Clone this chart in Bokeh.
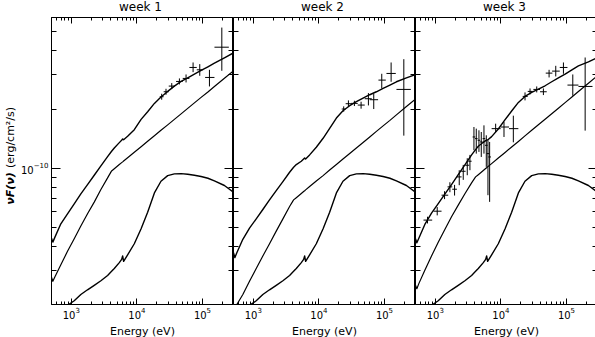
from math import pi
from bokeh.plotting import figure
from bokeh.models import Range1d, FixedTicker, LogAxis, Label, ColumnDataSource
from bokeh.layouts import row, column
from bokeh.embed import file_html
from bokeh.resources import INLINE

FONT = "DejaVu Sans"
FLUX_UNIT = 1e-10  # all flux values below are in units of 1e-10 erg/cm^2/s

panel_titles = ["week 1", "week 2", "week 3"]
x_axis_title = "Energy (eV)"
y_axis_title_symbol = "\u03bdF(\u03bd)"
y_axis_title_units = "(erg/cm\u00b2/s)"

# model energy grid (eV)
energy_grid = [500, 524, 562, 694, 877, 1110, 1400, 1770, 2240, 2830, 3580, 4120, 4530,
               5400, 5860, 6070, 6280, 7230, 9140, 11600, 14600, 18500, 23300, 29500,
               37300, 47200, 59600, 75300, 95300, 121000, 152000, 216000, 297000]

# thermal / Comptonised bump component (same in every week)
bump_component = [0.170, 0.172, 0.175, 0.186, 0.199, 0.210, 0.226, 0.239, 0.252, 0.266, 0.283,
                  0.297, 0.307, 0.329, 0.342, 0.356, 0.334, 0.361, 0.411, 0.490, 0.596, 0.748,
                  0.858, 0.917, 0.936, 0.939, 0.932, 0.921, 0.907, 0.889, 0.862, 0.816, 0.754]

# total model, per week
total_w1 = [0.439, 0.419, 0.443, 0.520, 0.585, 0.658, 0.740, 0.825, 0.921, 1.028, 1.147, 1.221,
            1.270, 1.352, 1.390, 1.411, 1.400, 1.456, 1.575, 1.778, 1.946, 2.146, 2.312, 2.471,
            2.631, 2.779, 2.901, 3.029, 3.162, 3.302, 3.447, 3.669, 3.892]
total_w2 = [0.370, 0.349, 0.370, 0.433, 0.494, 0.551, 0.615, 0.689, 0.769, 0.855, 0.954, 1.012,
            1.044, 1.086, 1.116, 1.129, 1.116, 1.170, 1.280, 1.423, 1.600, 1.806, 1.969, 2.088,
            2.189, 2.285, 2.376, 2.461, 2.559, 2.662, 2.768, 2.901, 3.017]
total_w3 = [0.436, 0.416, 0.439, 0.516, 0.589, 0.660, 0.737, 0.825, 0.928, 1.040, 1.170, 1.245,
            1.295, 1.357, 1.384, 1.395, 1.395, 1.451, 1.587, 1.771, 1.961, 2.171, 2.330, 2.442,
            2.540, 2.641, 2.768, 2.901, 3.029, 3.187, 3.340, 3.501, 3.684]

# power-law component, per week
power_w1 = [0.277, 0.264, 0.278, 0.321, 0.376, 0.436, 0.506, 0.585, 0.671, 0.778, 0.893, 0.969,
            0.995, 1.044, 1.068, 1.078, 1.089, 1.132, 1.207, 1.288, 1.374, 1.465, 1.563, 1.667,
            1.778, 1.897, 2.024, 2.159, 2.303, 2.456, 2.620, 2.887, 3.150]
power_w2 = [0.199, 0.190, 0.201, 0.226, 0.264, 0.307, 0.356, 0.411, 0.477, 0.551, 0.637, 0.689,
            0.707, 0.743, 0.760, 0.767, 0.775, 0.806, 0.860, 0.917, 0.979, 1.045, 1.115, 1.190,
            1.270, 1.355, 1.446, 1.543, 1.647, 1.757, 1.875, 2.068, 2.258]
power_w3 = [0.252, 0.242, 0.257, 0.301, 0.356, 0.418, 0.486, 0.565, 0.648, 0.740, 0.842, 0.903,
            0.927, 0.974, 0.996, 1.006, 1.016, 1.056, 1.127, 1.204, 1.285, 1.371, 1.464, 1.563,
            1.668, 1.780, 1.901, 2.028, 2.165, 2.312, 2.467, 2.721, 2.970]

# measured spectra: energy (eV) with bin edges, flux with error range
e_w1 = [23900, 27800, 34000, 44500, 56200, 71900, 90900, 127700, 197100]
e_lo_w1 = [22300, 25600, 30600, 39600, 50000, 63200, 81800, 109700, 152300]
e_hi_w1 = [25600, 30600, 37800, 50000, 63200, 81800, 102300, 152300, 252100]
f_w1 = [2.321, 2.461, 2.631, 2.779, 2.879, 3.276, 3.187, 2.913, 4.159]
f_lo_w1 = [2.241, 2.376, 2.540, 2.683, 2.746, 3.101, 2.970, 2.620, 3.150]
f_hi_w1 = [2.404, 2.549, 2.725, 2.879, 3.017, 3.474, 3.407, 3.187, 5.240]

e_w2 = [23900, 28200, 34800, 44000, 56900, 68600, 90900, 126200, 197100]
e_lo_w2 = [22300, 25600, 30900, 39100, 50000, 59600, 80900, 107200, 152300]
e_hi_w2 = [25600, 30900, 39100, 50000, 64000, 79900, 104700, 148700, 252100]
f_w2 = [2.008, 2.138, 2.146, 2.104, 2.267, 2.241, 2.823, 3.053, 2.530]
f_lo_w2 = [1.946, 2.056, 2.080, 2.016, 2.095, 2.008, 2.559, 2.768, 1.468]
f_hi_w2 = [2.072, 2.223, 2.214, 2.189, 2.423, 2.404, 3.041, 3.474, 3.612]

e_w3 = [762, 1071, 1386, 1672, 1970, 2321, 2671, 3075, 3377, 3887, 4219, 4633, 5029, 5525,
        5997, 6359, 6743, 8325, 11160, 15490, 23350, 27840, 35200, 44490, 54300, 68640,
        89860, 124800, 192500]
e_lo_w3 = [662, 942, 1247, 1540, 1815, 2138, 2490, 2865, 3185, 3709, 4026, 4421, 4799, 5272,
           5723, 6068, 6434, 7234, 9928, 13310, 21510, 25650, 31310, 39570, 48290, 60340,
           79000, 103500, 152300]
e_hi_w3 = [898, 1247, 1576, 1815, 2138, 2519, 2900, 3299, 3581, 4073, 4421, 4855, 5272, 5790,
           6285, 6664, 7066, 9928, 13310, 18480, 25650, 30580, 39570, 50010, 61050, 79000,
           103500, 152300, 249100]
f_w3 = [0.543, 0.603, 0.728, 0.803, 0.781, 0.903, 0.965, 1.036, 1.086, 1.445, 1.417, 1.390,
        1.363, 1.417, 1.310, 1.188, 1.142, 1.594, 1.625, 1.594, 2.330, 2.471, 2.530, 2.461,
        3.065, 3.138, 3.276, 2.662, 2.620]
f_lo_w3 = [0.522, 0.574, 0.695, 0.754, 0.725, 0.819, 0.872, 0.921, 0.977, 1.236, 1.188, 1.212,
           1.142, 1.188, 1.016, 0.728, 0.673, 1.532, 1.445, 1.357, 2.223, 2.385, 2.442, 2.367,
           2.913, 2.947, 3.041, 2.348, 1.557]
f_hi_w3 = [0.565, 0.633, 0.763, 0.848, 0.822, 0.977, 1.040, 1.125, 1.170, 1.625, 1.594, 1.563,
           1.532, 1.657, 1.474, 1.390, 1.363, 1.690, 1.723, 1.857, 2.442, 2.559, 2.620, 2.559,
           3.187, 3.340, 3.474, 3.017, 3.684]

# axis ticks
x_major_ticks = [1e3, 1e4, 1e5]
x_minor_ticks = [600, 700, 800, 900, 2000, 3000, 4000, 5000, 6000, 7000, 8000, 9000,
                 20000, 30000, 40000, 50000, 60000, 70000, 80000, 90000, 200000]
y_major_ticks = [1e-10]
y_minor_ticks = [3e-11, 4e-11, 5e-11, 6e-11, 7e-11, 8e-11, 9e-11, 2e-10, 3e-10, 4e-10, 5e-10]

X_RANGE = (500, 2.97e5)
Y_RANGE = (2.01e-11, 5.9e-10)
FRAME_W, FRAME_H = 182, 287
TITLE_H = 16
TOP, BOTTOM = 1, 33
LABEL_STRIP_W = 18
LEFT_EDGE = 49


def style_axis(ax, major_in, minor_in, show_labels):
    ax.axis_line_color = "black"
    ax.axis_line_width = 1
    ax.major_tick_line_color = "black"
    ax.minor_tick_line_color = "black"
    ax.major_tick_in = major_in
    ax.major_tick_out = 0
    ax.minor_tick_in = minor_in
    ax.minor_tick_out = 0
    if show_labels:
        ax.major_label_text_font = FONT
        ax.major_label_text_font_size = "10px"
        ax.major_label_text_color = "black"
        ax.major_label_standoff = 2
    else:
        ax.major_label_text_font_size = "0px"
        ax.major_label_text_alpha = 0
        ax.major_label_standoff = 0
        ax.axis_label = None


def scaled(vals):
    return [v * FLUX_UNIT for v in vals]


def blank_strip(width, height, top, bottom):
    s = figure(width=width, height=height, x_range=Range1d(0, 1), y_range=Range1d(0, 1),
               x_axis_location=None, y_axis_location=None,
               min_border_left=0, min_border_right=0, min_border_top=top,
               min_border_bottom=bottom, output_backend="svg", toolbar_location=None,
               background_fill_color="white", border_fill_color="white")
    s.grid.visible = False
    s.outline_line_color = None
    return s


def build_panel(i, total, power, e, e_lo, e_hi, f, f_lo, f_hi):
    first = i == 0
    p = figure(
        x_axis_type="log", y_axis_type="log",
        x_range=Range1d(*X_RANGE), y_range=Range1d(*Y_RANGE),
        frame_width=FRAME_W, frame_height=FRAME_H,
        min_border_left=LEFT_EDGE - LABEL_STRIP_W if first else 0, min_border_right=0,
        min_border_top=TOP, min_border_bottom=BOTTOM,
        output_backend="svg", toolbar_location=None,
        background_fill_color="white", border_fill_color="white",
    )
    p.outline_line_color = "black"
    p.outline_line_width = 1
    p.grid.visible = False

    model = ColumnDataSource(dict(e=energy_grid, total=scaled(total),
                                  power=scaled(power), bump=scaled(bump_component)))
    p.line("e", "total", source=model, line_color="black", line_width=1.4, line_join="round")
    p.line("e", "power", source=model, line_color="black", line_width=1.2, line_join="round")
    p.line("e", "bump", source=model, line_color="black", line_width=1.4, line_join="round")

    data = ColumnDataSource(dict(e=e, e_lo=e_lo, e_hi=e_hi, f=scaled(f),
                                 f_lo=scaled(f_lo), f_hi=scaled(f_hi)))
    p.segment(x0="e_lo", y0="f", x1="e_hi", y1="f", source=data,
              line_color="black", line_width=1)
    p.segment(x0="e", y0="f_lo", x1="e", y1="f_hi", source=data,
              line_color="black", line_width=1)

    bottom = p.xaxis[0]
    bottom.ticker = FixedTicker(ticks=x_major_ticks, minor_ticks=x_minor_ticks)
    style_axis(bottom, 6, 3, True)
    bottom.axis_label = x_axis_title
    bottom.axis_label_text_font = FONT
    bottom.axis_label_text_font_size = "11px"
    bottom.axis_label_text_font_style = "normal"
    bottom.axis_label_text_color = "black"
    bottom.axis_label_standoff = 3

    left = p.yaxis[0]
    left.ticker = FixedTicker(ticks=y_major_ticks, minor_ticks=y_minor_ticks)
    style_axis(left, 9, 5, first)
    if first:
        left.major_label_standoff = 3

    top = LogAxis(ticker=FixedTicker(ticks=x_major_ticks, minor_ticks=x_minor_ticks))
    style_axis(top, 6, 3, False)
    p.add_layout(top, "above")

    right = LogAxis(ticker=FixedTicker(ticks=y_major_ticks, minor_ticks=y_minor_ticks))
    style_axis(right, 9, 5, False)
    p.add_layout(right, "right")
    return p


# strip carrying the y-axis title (bold-italic symbol + plain units)
y_strip = blank_strip(LABEL_STRIP_W, TOP + FRAME_H + BOTTOM, TOP, BOTTOM)
y_strip.add_layout(Label(x=10, y=113, x_units="screen", y_units="screen", angle=pi / 2,
                         text=y_axis_title_symbol, text_align="center", text_baseline="middle",
                         text_font=FONT, text_font_size="11px",
                         text_font_style="bold italic", text_color="black"))
y_strip.add_layout(Label(x=10, y=164, x_units="screen", y_units="screen", angle=pi / 2,
                         text=y_axis_title_units, text_align="center", text_baseline="middle",
                         text_font=FONT, text_font_size="11px", text_color="black"))

# strip carrying the three panel titles
title_strip = blank_strip(LEFT_EDGE + 3 * FRAME_W, TITLE_H, 0, 0)
for k, t in enumerate(panel_titles):
    title_strip.add_layout(Label(x=LEFT_EDGE + FRAME_W * k + FRAME_W / 2, y=9.5,
                                 x_units="screen", y_units="screen", text=t,
                                 text_align="center", text_baseline="middle",
                                 text_font=FONT, text_font_size="12px", text_color="black"))

panels = [
    build_panel(0, total_w1, power_w1, e_w1, e_lo_w1, e_hi_w1, f_w1, f_lo_w1, f_hi_w1),
    build_panel(1, total_w2, power_w2, e_w2, e_lo_w2, e_hi_w2, f_w2, f_lo_w2, f_hi_w2),
    build_panel(2, total_w3, power_w3, e_w3, e_lo_w3, e_hi_w3, f_w3, f_lo_w3, f_hi_w3),
]

layout = column(title_strip, row(y_strip, *panels, spacing=0), spacing=0)
open("out.html", "w").write(file_html(layout, INLINE))
